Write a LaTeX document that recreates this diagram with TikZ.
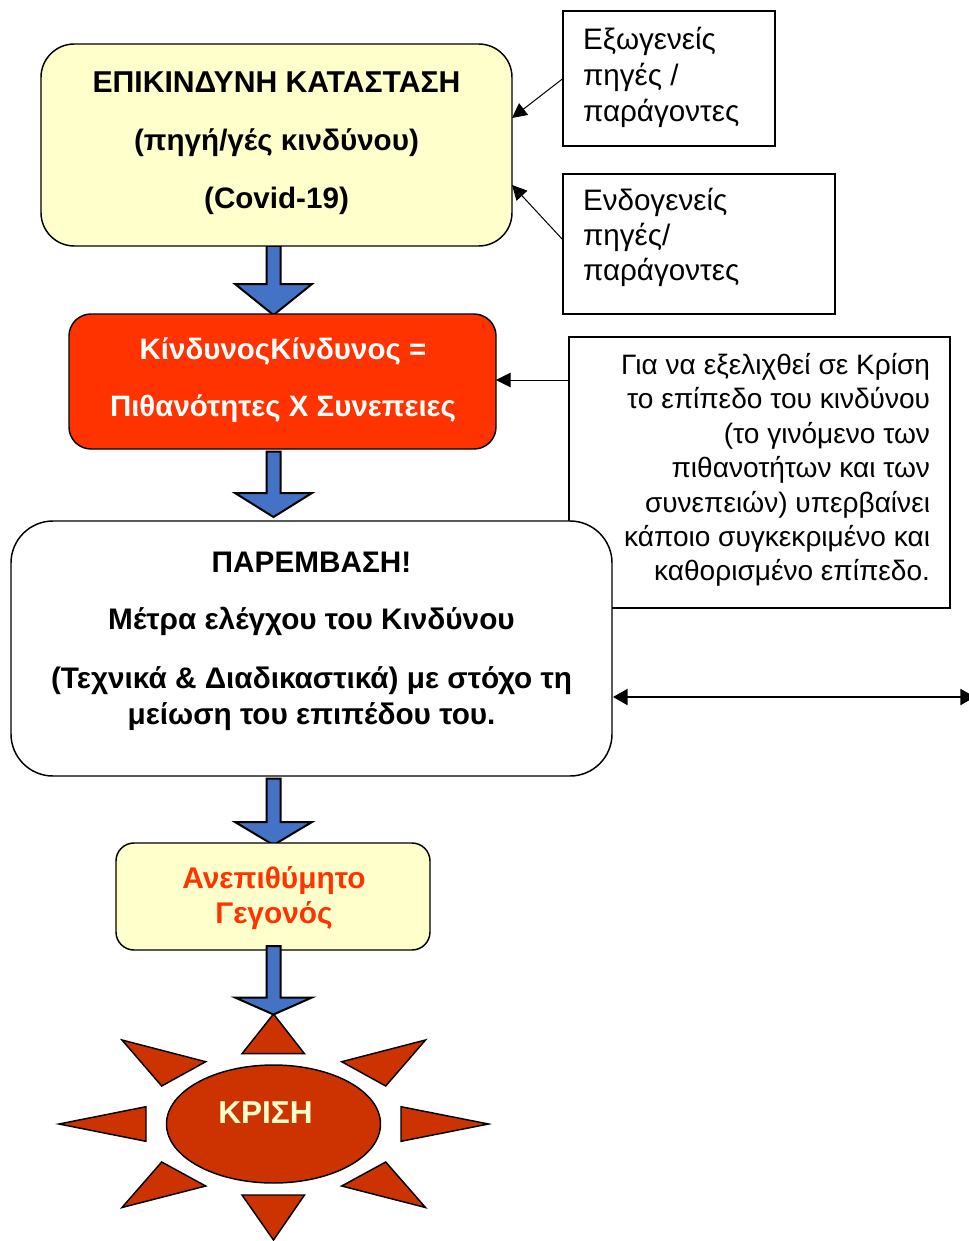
\documentclass[tikz,border=0pt]{standalone}
\usepackage{fontspec}
\setmainfont{Liberation Sans}
\usetikzlibrary{calc,arrows.meta,shapes.geometric,backgrounds}
\definecolor{paleyellow}{HTML}{FFFFCC}
\definecolor{riskred}{HTML}{FF3300}
\definecolor{crisisred}{HTML}{CC3300}
\definecolor{arrowblue}{HTML}{4472C4}
% #1 alignment l/c/r, #2 x of alignment point from node centre (px), #3 first baseline above centre (px), #4 lines
\newcommand\boxtext[4]{\makebox[0pt][l]{\hspace*{#2\dimexpr0.75pt\relax}\makebox[0pt][#1]{\raisebox{#3\dimexpr0.75pt\relax}[0pt][0pt]{\begin{tabular}[t]{@{}#1@{}}#4\end{tabular}}}}}
\newcommand\blockarrow[3]{\draw[blockstyle] ($(#1)+(-7,0)$) -- ($(#2)+(-7,-#3)$) -- ($(#2)+(-38.5,-#3)$) -- (#2) -- ($(#2)+(38.5,-#3)$) -- ($(#2)+(7,-#3)$) -- ($(#1)+(7,0)$) -- cycle;}
\tikzset{
  x=0.75pt,y=-0.75pt,
  stroke/.style={draw=black,line width=1.1pt},
  roundbox/.style={stroke,shape=rectangle,inner sep=0pt,outer sep=0pt,font=\bfseries},
  plainbox/.style={stroke,shape=rectangle,fill=white,inner sep=0pt,outer sep=0pt},
  blockstyle/.style={draw=black,line width=1.5pt,fill=arrowblue,line join=miter},
  ray/.style={draw=black,line width=1.1pt,fill=crisisred,line join=miter},
  thin link/.style={draw=black,line width=0.75pt,-{Triangle[length=11pt,width=11pt]}},
  both link/.style={draw=black,line width=1.7pt,{Triangle[length=11pt,width=12pt]}-{Triangle[length=11pt,width=12pt]}},
}
\begin{document}
\begin{tikzpicture}
\useasboundingbox (0,0) rectangle (968,1241);
\coordinate (spine) at (273.5,0);

% side boxes
\node[plainbox,minimum width=159pt,minimum height=101.25pt,font=\fontsize{22.2pt}{27pt}\selectfont] (ext) at (669,78.5)
  {\boxtext{l}{-86}{28.5}{Εξωγενείς\\πηγές /\\παράγοντες}};
\node[plainbox,minimum width=204pt,minimum height=105pt,font=\fontsize{22.2pt}{25.9pt}\selectfont] (endo) at (699,244)
  {\boxtext{l}{-116}{33}{Ενδογενείς\\πηγές/\\παράγοντες}};
\node[plainbox,minimum width=285.75pt,minimum height=203.25pt,font=\fontsize{21.05pt}{25.8pt}\selectfont] (cond) at (759.5,472.5)
  {\boxtext{r}{170.5}{98}{Για να εξελιχθεί σε Κρίση\\το επίπεδο του κινδύνου\\(το γινόμενο των\\πιθανοτήτων και των\\συνεπειών) υπερβαίνει\\κάποιο συγκεκριμένο και\\καθορισμένο επίπεδο.}};

% main chain
\node[roundbox,fill=paleyellow,rounded corners=25pt,minimum width=353.25pt,minimum height=151.5pt,font=\bfseries\fontsize{22.2pt}{43.5pt}\selectfont] (danger) at (276.5,145)
  {\boxtext{c}{0}{52.5}{{\fontsize{22.6pt}{43.5pt}\selectfont ΕΠΙΚΙΝΔΥΝΗ ΚΑΤΑΣΤΑΣΗ}\\(πηγή/γές κινδύνου)\\(Covid-19)}};
\node[roundbox,fill=riskred,text=white,rounded corners=16.5pt,minimum width=320.25pt,minimum height=101.25pt,font=\bfseries\fontsize{22.1pt}{42.75pt}\selectfont] (risk) at (282.5,381.5)
  {\boxtext{c}{0.5}{22.5}{ΚίνδυνοςΚίνδυνος =\\Πιθανότητες Χ Συνεπειες}};
\node[roundbox,fill=white,rounded corners=31.5pt,minimum width=450.75pt,minimum height=191.25pt,font=\bfseries\fontsize{22.3pt}{27pt}\selectfont] (control) at (311.5,648.5)
  {\boxtext{c}{0}{76.5}{ΠΑΡΕΜΒΑΣΗ!\\[15.75pt]Μέτρα ελέγχου του Κινδύνου\\[17.25pt](Τεχνικά \& Διαδικαστικά) με στόχο τη\\μείωση του επιπέδου του.}};
\node[roundbox,fill=paleyellow,text=riskred,rounded corners=13.5pt,minimum width=235.5pt,minimum height=80.25pt,font=\bfseries\fontsize{22.4pt}{26.25pt}\selectfont] (event) at (273,896.5)
  {\boxtext{c}{1}{8.5}{Ανεπιθύμητο\\Γεγονός}};

% crisis rays
\coordinate (hub) at (273.5,1124);
\draw[ray] (273.5,1014) -- (242,1053.7) -- (304.5,1053.7) -- cycle;
\draw[ray] (122,1040) -- (205.7,1061.7) -- (161.7,1086) -- cycle;
\draw[ray] (425.5,1040) -- (341.7,1061.7) -- (385.7,1086) -- cycle;
\draw[ray] (59,1124) -- (146,1106.7) -- (146,1141.3) -- cycle;
\draw[ray] (488.5,1124) -- (401,1106.7) -- (401,1141.3) -- cycle;
\draw[ray] (122,1207.5) -- (205.7,1186) -- (161.7,1162) -- cycle;
\draw[ray] (425.5,1207.5) -- (341.7,1186) -- (385.7,1162) -- cycle;
\draw[ray] (242,1195) -- (304.5,1195) -- (273.5,1240) -- cycle;
\node[ellipse,stroke,fill=crisisred,text=paleyellow,inner sep=0pt,outer sep=0pt,minimum width=160.5pt,minimum height=88.5pt,font=\bfseries\fontsize{23.7pt}{28pt}\selectfont] (crisis) at (hub)
  {\boxtext{c}{-8}{1}{ΚΡΙΣΗ}};

% block arrows
\coordinate (t1) at ($(risk.north -| spine)+(0,1)$);
\coordinate (t2) at ($(control.north -| spine)+(0,-4)$);
\coordinate (t3) at ($(event.north -| spine)+(0,2)$);
\coordinate (t4) at ($(crisis.north -| spine)+(0,-50.5)$);
\coordinate (f2) at ($(risk.south -| spine)+(0,2.5)$);
\coordinate (f3) at ($(control.south -| spine)+(0,2.5)$);
\coordinate (f4) at ($(event.south -| spine)+(0,-4)$);
\begin{pgfonlayer}{background}
  \blockarrow{danger.south -| spine}{t1}{31}
  \blockarrow{f3}{t3}{23}
\end{pgfonlayer}
\blockarrow{f2}{t2}{24}
\blockarrow{f4}{t4}{17}

% thin connectors
\coordinate (e1) at ($(danger.east)+(0,-27)$);
\coordinate (e2) at ($(danger.east)+(0,40)$);
\coordinate (s2) at ($(endo.west)+(0,-4)$);
\coordinate (s3) at ($(cond.west)+(0,-92.5)$);
\coordinate (e3) at ($(risk.east)+(0,-1.5)$);
\draw[thin link] (ext.west) -- (e1);
\draw[thin link] (s2) -- (e2);
\draw[thin link] (s3) -- (e3);
\coordinate (d1) at ($(control.east)+(1,48.5)$);
\coordinate (offpage) at (975,697);
\draw[both link] (d1) -- (offpage);
\end{tikzpicture}
\end{document}
